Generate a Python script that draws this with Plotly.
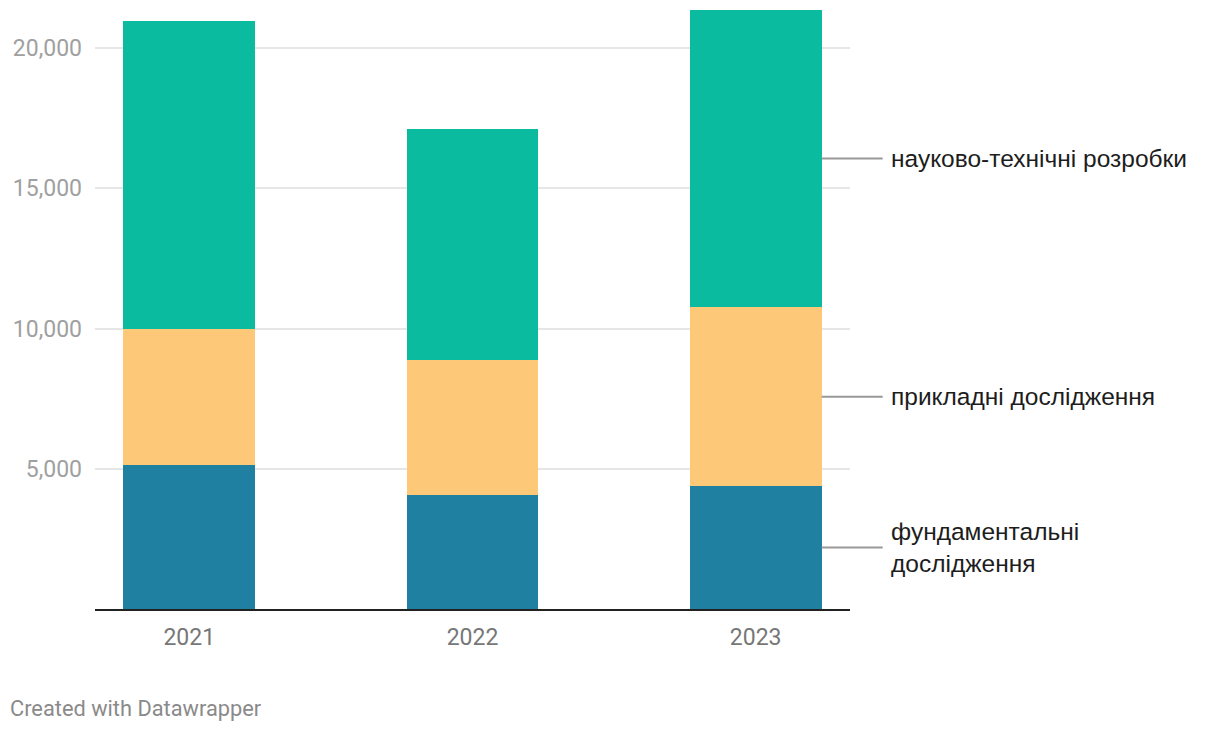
import plotly.graph_objects as go

years = ["2021", "2022", "2023"]
fundamental = [5130, 4060, 4380]
applied = [4850, 4810, 6380]
scitech = [10990, 8240, 10600]
series_names = ["фундаментальні<br>дослідження", "прикладні дослідження", "науково-технічні розробки"]
colors = ["#1f80a1", "#fdc979", "#0bbba0"]
y_ticks = [5000, 10000, 15000, 20000]

OFF = 8  # page body margin
W, H = 1220, 732
ML, MT = 95 - OFF, 0
PW, PH = 755, 601
MR, MB = W - ML - PW, H - MT - PH
XR = [-0.333, 2.333]

def xpaper(v):
    return (v - XR[0]) / (XR[1] - XR[0])

series = [fundamental, applied, scitech]
fig = go.Figure()
for name, vals, col in zip(series_names, series, colors):
    fig.add_trace(go.Bar(x=list(range(len(years))), y=vals, name=name,
                         marker=dict(color=col, line=dict(width=0)), width=0.466,
                         hoverinfo="skip"))

last = len(years) - 1
base = 0
bw = 0.466 / 2
x_start = xpaper(last + bw)
for name, vals in zip(series_names, series):
    mid = base + vals[last] / 2
    base += vals[last]
    fig.add_shape(type="line", xref="paper", yref="y", x0=x_start, x1=x_start + 61 / PW,
                  y0=mid, y1=mid, line=dict(color="#999999", width=2))
    fig.add_annotation(x=x_start + 67 / PW, y=mid, xref="paper", yref="y", text=name,
                       showarrow=False, xanchor="left", yanchor="middle", align="left",
                       font=dict(family="Liberation Sans", size=24.5, color="#1d1d1d"))

fig.add_annotation(x=(8 - OFF - ML) / PW, y=(MT + PH - (708 - OFF)) / PH,
                   xref="paper", yref="paper",
                   text="Created with Datawrapper", showarrow=False,
                   xanchor="left", yanchor="middle",
                   font=dict(family="Roboto", size=21.8, color="#8a8a8a"))

fig.update_layout(
    barmode="stack",
    width=W, height=H,
    margin=dict(l=ML, r=MR, t=MT, b=MB, autoexpand=False),
    paper_bgcolor="white", plot_bgcolor="white",
    showlegend=False,
    font=dict(family="Roboto", color="#8a8a8a"),
    xaxis=dict(tickvals=list(range(len(years))), ticktext=years, range=XR,
               showgrid=False, showline=True, linecolor="#222222", linewidth=2,
               ticks="", tickfont=dict(size=23, color="#777777"), zeroline=False,
               ticklabelstandoff=6),
    yaxis=dict(range=[0, 21430], tickvals=y_ticks, tickformat=",", showgrid=True,
               gridcolor="#e6e6e6", gridwidth=1.5, zeroline=False, showline=False,
               ticks="", ticklabelstandoff=12,
               tickfont=dict(size=23, color="#a0a0a0")),
)
fig.write_html("out.html")
